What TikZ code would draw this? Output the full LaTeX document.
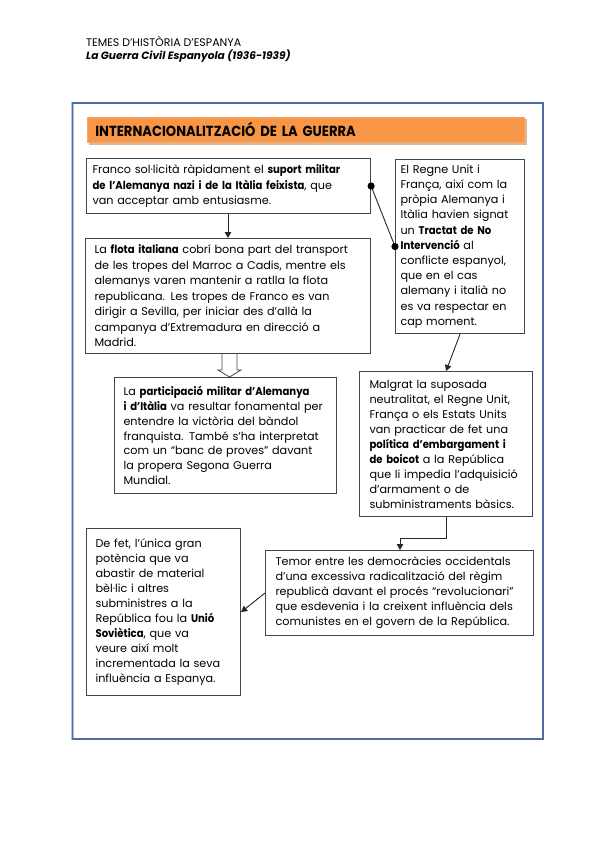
\documentclass[tikz,border=0pt]{standalone}
\usepackage{fontspec}
\setmainfont{Poppins}[BoldFeatures={FakeStretch=0.9}]
\usetikzlibrary{arrows.meta,calc}
\definecolor{frameblue}{HTML}{4F6C9E}
\definecolor{framelight}{HTML}{B4C4DD}
\definecolor{orangebar}{HTML}{F79646}
\definecolor{barshadow}{HTML}{D8B89C}
\definecolor{boxline}{HTML}{454545}
\newcommand{\bodysize}[1]{\fontsize{11.2}{#1}\selectfont}
\tikzset{
  txtbox/.style={draw=boxline, line width=1.1pt, anchor=north west, align=left,
    inner ysep=0pt, font=\bodysize{15.3}},
  conn/.style={draw=black!85, line width=0.9pt},
  arr/.style={conn, -{Triangle[length=6pt,width=6.5pt]}},
  hollow/.style={draw=boxline, line width=0.8pt},
  hdr/.style={anchor=base west, inner sep=0pt},
}
\begin{document}
\begin{tikzpicture}[x=1pt,y=-1pt]
\useasboundingbox (0,0) rectangle (599,848);
% header
\node[hdr, font=\fontsize{11}{12}\selectfont] (h1) at (86,46.5) {TEMES D’HISTÒRIA D’ESPANYA};
\node[hdr, font=\fontsize{10.6}{12}\selectfont\bfseries\itshape] (h2) at (86,59.5) {La Guerra Civil Espanyola (1936-1939)};
% frame
\draw[framelight, line width=2.6pt] (72.5,103) rectangle (543,739);
\draw[frameblue, line width=1.2pt] (72.5,103) rectangle (543,739);
% title bar
\fill[barshadow] (89,119.5) rectangle (526.5,144.5);
\node[fill=orangebar, draw=orangebar!85!white, line width=0.6pt, anchor=north west,
  minimum width=437pt, minimum height=25pt, text width=421pt, inner xsep=8pt, inner ysep=0pt,
  align=left, font=\fontsize{14.6}{16}\selectfont\bfseries] (title) at (87,117)
  {INTERNACIONALITZACIÓ DE LA GUERRA};
% boxes
\node[txtbox, inner xsep=6pt, text width=272pt, minimum width=284pt, minimum height=55pt,
  font=\bodysize{15.5}] (b1) at (86,158)
 {Franco sol·licità ràpidament el \textbf{suport militar}\\
  \textbf{de l’Alemanya nazi i de la Itàlia feixista}, que\\
  van acceptar amb entusiasme.};
\node[txtbox, inner xsep=5pt, text width=119pt, minimum width=129pt, minimum height=174pt,
  font=\bodysize{15.2}] (b2) at (395,159)
 {El Regne Unit i\\
  França, així com la\\
  pròpia Alemanya i\\
  Itàlia havien signat\\
  un \textbf{Tractat de No}\\
  \textbf{Intervenció} al\\
  conflicte espanyol,\\
  que en el cas\\
  alemany i italià no\\
  es va respectar en\\
  cap moment.};
\node[txtbox, inner xsep=9pt, text width=267pt, minimum width=285pt, minimum height=115pt,
  font=\bodysize{15.5}] (b3) at (85,238)
 {La \textbf{flota italiana} cobrí bona part del transport\\
  de les tropes del Marroc a Cadis, mentre els\\
  alemanys varen mantenir a ratlla la flota\\
  republicana. Les tropes de Franco es van\\
  dirigir a Sevilla, per iniciar des d’allà la\\
  campanya d’Extremadura en direcció a\\
  Madrid.};
\node[txtbox, inner xsep=9pt, text width=204pt, minimum width=222pt, minimum height=116pt,
  font=\bodysize{14.8}] (b4) at (114,377)
 {La \textbf{participació militar d’Alemanya}\\
  \textbf{i d’Itàlia} va resultar fonamental per\\
  entendre la victòria del bàndol\\
  franquista. També s’ha interpretat\\
  com un “banc de proves” davant\\
  la propera Segona Guerra\\
  Mundial.};
\node[txtbox, inner xsep=10pt, text width=153pt, minimum width=173pt, minimum height=145pt,
  font=\bodysize{15}] (b5) at (359,371)
 {Malgrat la suposada\\
  neutralitat, el Regne Unit,\\
  França o els Estats Units\\
  van practicar de fet una\\
  \textbf{política d’embargament i}\\
  \textbf{de boicot} a la República\\
  que li impedia l’adquisició\\
  d’armament o de\\
  subministraments bàsics.};
\node[txtbox, inner xsep=9pt, text width=136pt, minimum width=154pt, minimum height=167pt,
  font=\bodysize{15}] (b6) at (86,528)
 {De fet, l’única gran\\
  potència que va\\
  abastir de material\\
  bèl·lic i altres\\
  subministres a la\\
  República fou la \textbf{Unió}\\
  \textbf{Soviètica}, que va\\
  veure així molt\\
  incrementada la seva\\
  influència a Espanya.\\[3pt]};
\node[txtbox, inner xsep=10pt, text width=248pt, minimum width=268pt, minimum height=85pt,
  font=\bodysize{15}] (b7) at (265,550)
 {Temor entre les democràcies occidentals\\
  d’una excessiva radicalització del règim\\
  republicà davant el procés “revolucionari”\\
  que esdevenia i la creixent influència dels\\
  comunistes en el govern de la República.};
% connectors
\coordinate (a1) at (228,0);
\draw[arr] (b1.south -| a1) -- (b3.north -| a1);
\draw[conn] (b1.east) -- (b2.west);
\fill[black] (b1.east) circle (3.6pt);
\fill[black] (b2.west) circle (3.6pt);
\coordinate (ha) at (229.5,0);
\path (b3.south -| ha) coordinate (hs) (b4.north -| ha) coordinate (he);
\draw[hollow] ($(hs)+(-7.5,0)$) -- ($(he)+(-7.5,-7)$) -- ($(he)+(-11.5,-7)$) -- (he)
  -- ($(he)+(11.5,-7)$) -- ($(he)+(7.5,-7)$) -- ($(hs)+(7.5,0)$);
\draw[arr] (b2.south) -- (b5.north);
\coordinate (a7) at (400,0);
\draw[arr] (b5.south) -- ++(0,21) -| (b7.north -| a7);
\draw[arr] (b7.west) -- (b6.east);
\end{tikzpicture}
\end{document}
